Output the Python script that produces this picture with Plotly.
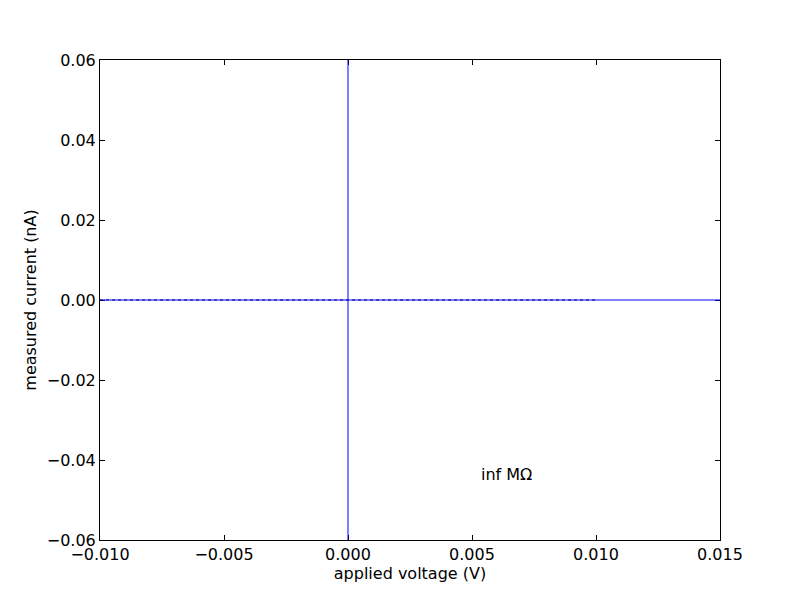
import plotly.graph_objects as go

voltage = [-0.01, -0.005, 0.0, 0.005, 0.01]
current = [0.0, 0.0, 0.0, 0.0, 0.0]
x_ticks = [-0.010, -0.005, 0.000, 0.005, 0.010, 0.015]
y_ticks = [-0.06, -0.04, -0.02, 0.00, 0.02, 0.04, 0.06]
label_text = "inf MΩ"
label_pos = (0.0053, -0.0437)

FONT = "DejaVu Sans"
fig = go.Figure()
fig.add_trace(go.Scatter(x=voltage, y=current, mode="lines",
                         line=dict(color="black", width=1, dash="dot"),
                         showlegend=False))
fig.add_hline(y=0, line=dict(color="blue", width=1))
fig.add_vline(x=0, line=dict(color="blue", width=1))
fig.add_annotation(x=label_pos[0], y=label_pos[1], text=label_text, showarrow=False,
                   xanchor="left", yanchor="middle",
                   font=dict(family=FONT, size=16, color="black"))

axis_common = dict(showgrid=False, zeroline=False, showline=True, linecolor="black",
                   linewidth=1, mirror="allticks", ticks="inside", ticklen=5,
                   tickcolor="black", tickfont=dict(family=FONT, size=16, color="black"))
fig.update_xaxes(range=[-0.01, 0.015], tickvals=x_ticks, tickformat=".3f",
                 title=dict(text="applied voltage (V)", font=dict(family=FONT, size=16, color="black"), standoff=0),
                 **axis_common)
fig.update_yaxes(range=[-0.06, 0.06], tickvals=y_ticks, tickformat=".2f",
                 title=dict(text="measured current (nA)", font=dict(family=FONT, size=16, color="black"), standoff=6),
                 **axis_common)
fig.update_layout(width=800, height=600, plot_bgcolor="white", paper_bgcolor="white",
                  margin=dict(l=92, r=88, t=52, b=68))
fig.write_html("out.html")
